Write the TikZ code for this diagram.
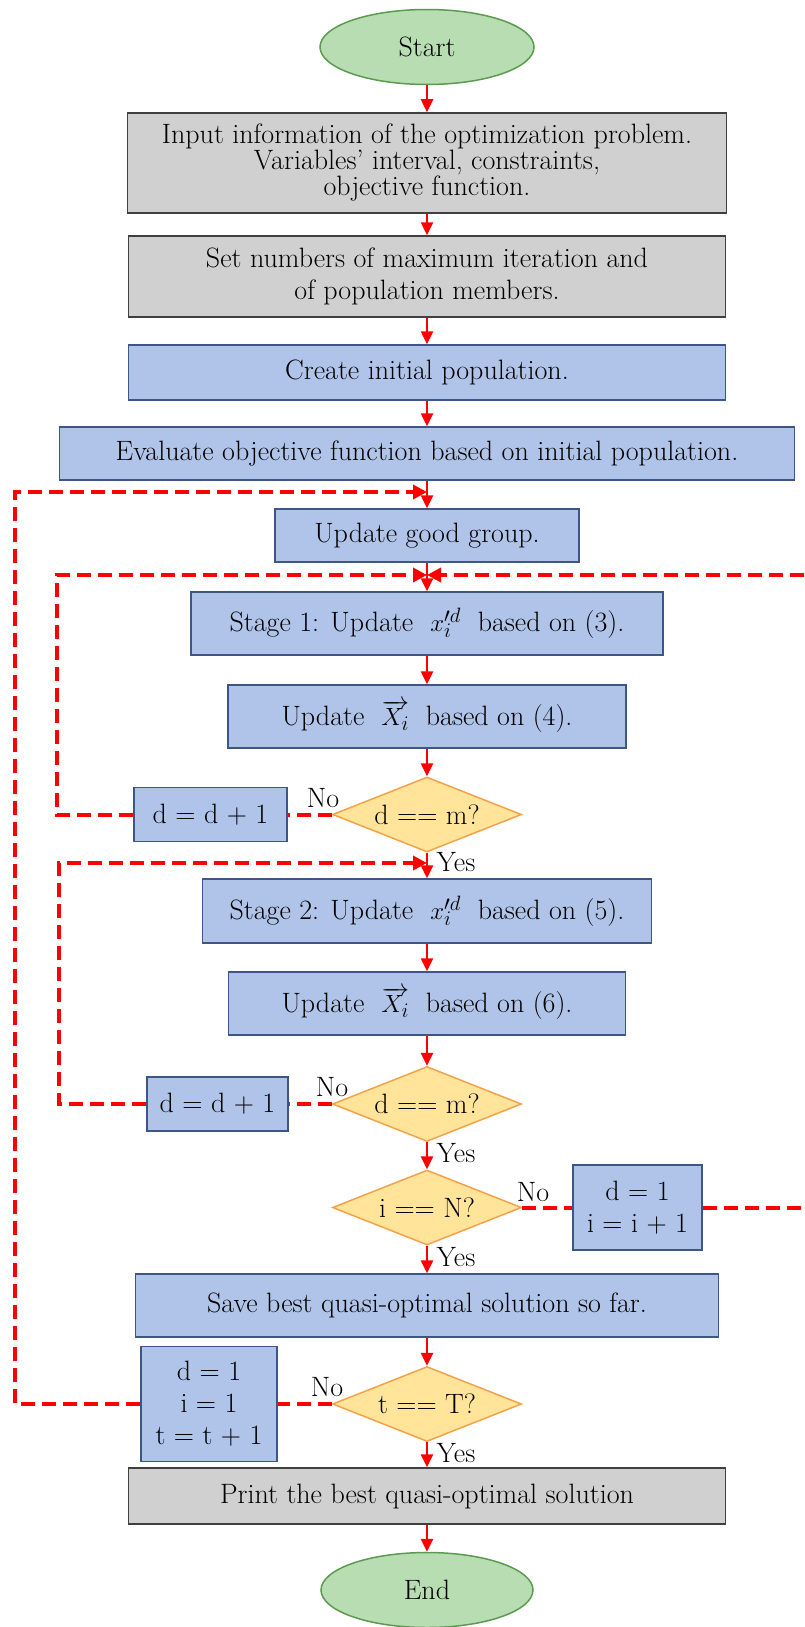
\documentclass[tikz,border=0pt]{standalone}
\usepackage{fontspec}
\usetikzlibrary{shapes.geometric,arrows.meta}

\definecolor{termfill}{HTML}{B9DDB3}
\definecolor{termline}{HTML}{5B9B4F}
\definecolor{grayfill}{HTML}{D0D0D0}
\definecolor{grayline}{HTML}{404040}
\definecolor{bluefill}{HTML}{B0C4E9}
\definecolor{blueline}{HTML}{3E5685}
\definecolor{testfill}{HTML}{FFE49A}
\definecolor{testline}{HTML}{F4A24A}

\tikzset{
  every node/.style={font=\fontsize{28}{32}\selectfont},
  termbox/.style={ellipse, draw=termline, fill=termfill, line width=1.5pt,
    minimum width=214pt, minimum height=75pt},
  graybox/.style={rectangle, draw=grayline, fill=grayfill, line width=1.5pt, align=center},
  bluebox/.style={rectangle, draw=blueline, fill=bluefill, line width=1.5pt, align=center},
  testbox/.style={diamond, aspect=2.5, draw=testline, fill=testfill, line width=1.5pt,
    inner sep=0pt, minimum width=189pt, minimum height=75pt},
  flow/.style={-{Triangle[width=12pt,length=13pt]}, red, line width=2.5pt},
  dashline/.style={red, line width=4pt, dash pattern=on 14pt off 7pt},
  loopback/.style={dashline, -{Triangle[width=14pt,length=14pt]}},
  lbl/.style={inner sep=0pt}
}

\begin{document}
\begin{tikzpicture}[x=1pt,y=-1pt]
  \useasboundingbox (0,0) rectangle (804,1627);
  % main column
  \node[termbox] (start) at (427,47) {Start};
  \node[graybox, minimum width=599pt, minimum height=100pt] (input) at (427,163)
    {Input information of the optimization problem.\\[-6pt]
     Variables’ interval, constraints,\\[-6pt] objective function.};
  \node[graybox, minimum width=597pt, minimum height=81pt] (setn) at (427,276.5)
    {Set numbers of maximum iteration and\\ of population members.};
  \node[bluebox, minimum width=597pt, minimum height=55pt] (create) at (427,372.5)
    {Create initial population.};
  \node[bluebox, minimum width=735pt, minimum height=53pt] (eval) at (427,453.5)
    {Evaluate objective function based on initial population.};
  \node[bluebox, minimum width=304pt, minimum height=53pt] (good) at (427,535.5)
    {Update good group.};
  \node[bluebox, minimum width=472pt, minimum height=63pt] (stage1) at (427,623.5)
    {Stage 1: Update \ $x'^{d}_{i}$ \ based on (3).};
  \node[bluebox, minimum width=398pt, minimum height=63pt] (updx1) at (427,716.5)
    {Update \ $\overrightarrow{X_{i}}$ \ based on (4).};
  \node[testbox] (dm1) at (427,814.5) {d == m?};
  \node[bluebox, minimum width=449pt, minimum height=64pt] (stage2) at (427,911)
    {Stage 2: Update \ $x'^{d}_{i}$ \ based on (5).};
  \node[bluebox, minimum width=397pt, minimum height=63pt] (updx2) at (427,1003.5)
    {Update \ $\overrightarrow{X_{i}}$ \ based on (6).};
  \node[testbox] (dm2) at (427,1104) {d == m?};
  \node[testbox] (iN) at (427,1207.5) {i == N?};
  \node[bluebox, minimum width=583pt, minimum height=63pt] (save) at (427,1305.5)
    {Save best quasi-optimal solution so far.};
  \node[testbox] (tT) at (427,1404) {t == T?};
  \node[graybox, minimum width=597pt, minimum height=56pt] (print) at (427,1496)
    {Print the best quasi-optimal solution};
  \node[termbox, minimum width=212pt] (end) at (427,1590) {End};
  % side boxes
  \node[bluebox, minimum width=153pt, minimum height=54pt] (dd1) at (210.5,814.5) {d = d + 1};
  \node[bluebox, minimum width=141pt, minimum height=54pt] (dd2) at (217.5,1104) {d = d + 1};
  \node[bluebox, minimum width=129pt, minimum height=85pt] (di) at (637.5,1207.5) {d = 1\\ i = i + 1};
  \node[bluebox, minimum width=136pt, minimum height=115pt] (dit) at (209,1404) {d = 1\\ i = 1\\ t = t + 1};
  % labels
  \node[lbl] (no1) at (323,798) {No};
  \node[lbl] (no2) at (332,1087) {No};
  \node[lbl] (no3) at (533,1192) {No};
  \node[lbl] (no4) at (327,1387) {No};
  \node[lbl] (yes1) at (456,862) {Yes};
  \node[lbl] (yes2) at (456,1153) {Yes};
  \node[lbl] (yes3) at (456,1257) {Yes};
  \node[lbl] (yes4) at (456,1453) {Yes};
  % loop targets
  \coordinate (m1) at (427,492);
  \coordinate (m2) at (427,575);
  \coordinate (m3) at (427,863);
  \coordinate (r1) at (804,1207.5);
  \coordinate (r2) at (804,575);

  \draw[flow] (start) -- (input);
  \draw[flow] (input) -- (setn);
  \draw[flow] (setn) -- (create);
  \draw[flow] (create) -- (eval);
  \draw[flow] (eval) -- (good);
  \draw[flow] (good) -- (stage1);
  \draw[flow] (stage1) -- (updx1);
  \draw[flow] (updx1) -- (dm1);
  \draw[flow] (dm1) -- (stage2);
  \draw[flow] (stage2) -- (updx2);
  \draw[flow] (updx2) -- (dm2);
  \draw[flow] (dm2) -- (iN);
  \draw[flow] (iN) -- (save);
  \draw[flow] (save) -- (tT);
  \draw[flow] (tT) -- (print);
  \draw[flow] (print) -- (end);

  \draw[dashline] (dm1.west) -- (dd1.east);
  \draw[dashline] (dm2.west) -- (dd2.east);
  \draw[dashline] (iN.east) -- (di.west);
  \draw[dashline] (tT.west) -- (dit.east);

  \draw[loopback] (dd1.west) -- (57,814.5) |- (m2);
  \draw[loopback] (dd2.west) -- (59,1104) |- (m3);
  \draw[loopback] (dit.west) -- (15,1404) |- (m1);
  \draw[dashline] (di.east) -- (r1);
  \draw[loopback] (r2) -- (m2);
\end{tikzpicture}
\end{document}
